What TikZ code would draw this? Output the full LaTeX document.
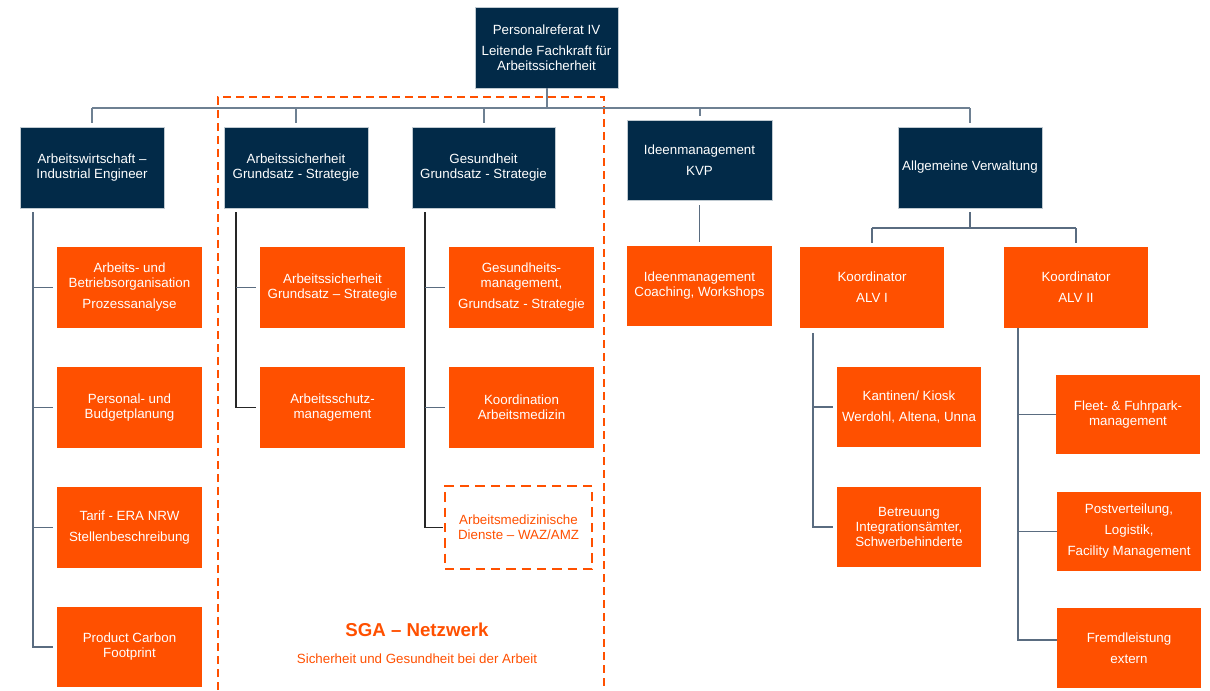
\documentclass[tikz,border=0pt]{standalone}
\usepackage{fontspec}
\setmainfont{Liberation Sans}
\usetikzlibrary{calc}
\definecolor{navy}{HTML}{022A48}
\definecolor{org}{HTML}{FF5000}
\definecolor{lineg}{HTML}{5A6C80}
\definecolor{busg}{HTML}{6E8092}
\begin{document}
\begin{tikzpicture}[x=0.75pt,y=-0.75pt,
  sz/.style 2 args={minimum width={#1*0.75pt}, minimum height={#2*0.75pt}},
  box/.style={rectangle, inner sep=0pt, align=center, text=white, font=\fontsize{10}{11.25}\selectfont},
  navybox/.style={box, fill=navy, draw=white!75!navy, line width=0.5pt},
  orgbox/.style={box, fill=org},
  dashbox/.style={box, fill=white, text=org, draw=org, line width=2.2pt, dash pattern=on 7pt off 4.5pt},
  busline/.style={draw=busg, line width=1.5pt},
  conn/.style={draw=lineg, line width=1.2pt},
  dk/.style={draw=black!85, line width=1.2pt},
  sgaframe/.style={draw=org, line width=1.5pt, dash pattern=on 6pt off 3.75pt}]
\useasboundingbox (0,0) rectangle (1210,690);
\fill[white] (0,0) rectangle (1210,690);

% SGA network frame
\draw[sgaframe] (218,690) -- (218,97) -- (604,97) -- (604,690);

% level 0 and 1
\node[navybox, sz={143}{81}] (top) at (546.5,47.5) {Personalreferat IV\\[4.5pt]Leitende Fachkraft für\\Arbeitssicherheit};
\node[navybox, sz={144}{81}] (A) at (92,167.5) {Arbeitswirtschaft –\\Industrial Engineer};
\node[navybox, sz={144}{81}] (B) at (296,167.5) {Arbeitssicherheit\\Grundsatz - Strategie};
\node[navybox, sz={143}{81}] (C) at (483.5,167.5) {Gesundheit\\Grundsatz - Strategie};
\node[navybox, sz={145}{80}] (D) at (699.5,160) {Ideenmanagement\\[4.5pt]KVP};
\node[navybox, sz={144}{81}] (E) at (970,167.5) {Allgemeine Verwaltung};

% column A
\node[orgbox, sz={145}{81}] (A1) at (129.5,287.5) {Arbeits- und\\Betriebsorganisation\\[4.5pt]Prozessanalyse};
\node[orgbox, sz={145}{81}] (A2) at (129.5,407.5) {Personal- und\\Budgetplanung};
\node[orgbox, sz={145}{81}] (A3) at (129.5,527.5) {Tarif - ERA NRW\\[4.5pt]Stellenbeschreibung};
\node[orgbox, sz={145}{80}] (A4) at (129.5,647) {Product Carbon\\Footprint};

% column B
\node[orgbox, sz={145}{81}] (B1) at (332.5,287.5) {Arbeitssicherheit\\Grundsatz – Strategie};
\node[orgbox, sz={145}{81}] (B2) at (332.5,407.5) {Arbeitsschutz-\\management};

% column C
\node[orgbox, sz={145}{81}] (C1) at (521.5,287.5) {Gesundheits-\\management,\\[4.5pt]Grundsatz - Strategie};
\node[orgbox, sz={145}{81}] (C2) at (521.5,407.5) {Koordination\\Arbeitsmedizin};
\node[dashbox, sz={147}{83}] (C3) at (518.5,527.5) {Arbeitsmedizinische\\Dienste – WAZ/AMZ};

% column D
\node[orgbox, sz={145}{80}] (D1) at (699.5,286) {Ideenmanagement\\Coaching, Workshops};

% column E
\node[orgbox, sz={144}{81}] (E1) at (872,287.5) {Koordinator\\[4.5pt]ALV I};
\node[orgbox, sz={144}{81}] (E2) at (1076,287.5) {Koordinator\\[4.5pt]ALV II};
\node[orgbox, sz={144}{80}] (E1a) at (909,407) {Kantinen/ Kiosk\\[4.5pt]Werdohl, Altena, Unna};
\node[orgbox, sz={144}{80}] (E1b) at (909,527) {Betreuung\\Integrationsämter,\\Schwerbehinderte};
\node[orgbox, sz={144}{79}] (E2a) at (1128,414.5) {Fleet- \& Fuhrpark-\\management};
\node[orgbox, sz={144}{79}] (E2b) at (1129,531.5) {Postverteilung,\\[4.5pt]Logistik,\\[4.5pt]Facility Management};
\node[orgbox, sz={144}{80}] (E2c) at (1129,648) {Fremdleistung\\[4.5pt]extern};

% SGA label
\node[text=org, font=\fontsize{14}{16}\selectfont\bfseries] (sga) at (417,630) {SGA – Netzwerk};
\node[text=org, font=\fontsize{10}{12}\selectfont] (sgasub) at (417,659) {Sicherheit und Gesundheit bei der Arbeit};

% top bus
\coordinate (bus) at (0,108);
\draw[busline] (top.south) -- (top.south |- bus);
\draw[busline] (A.north |- bus) -- (E.north |- bus);
\foreach \n in {A,B,C,E} \draw[busline] (\n.north |- bus) -- ($(\n.north)+(0,-4)$);
\draw[busline] (D.north |- bus) -- ($(D.north)+(0,-4)$);

% column A connectors
\coordinate (xa) at (33,0);
\draw[conn] ($(xa |- A.south)+(0,4)$) -- (xa |- A4.west) -- ($(A4.west)+(-4,0)$);
\foreach \n in {A1,A2,A3} \draw[conn] (xa |- \n.west) -- ($(\n.west)+(-4,0)$);

% column B connectors
\coordinate (xb) at (236,0);
\draw[dk] ($(xb |- B.south)+(0,4)$) -- (xb |- B2.west) -- ($(B2.west)+(-4,0)$);
\draw[conn] (xb |- B1.west) -- ($(B1.west)+(-4,0)$);

% column C connectors
\coordinate (xc) at (425,0);
\draw[dk] ($(xc |- C.south)+(0,4)$) -- (xc |- C3.west) -- ($(C3.west)+(-1,0)$);
\foreach \n in {C1,C2} \draw[conn] (xc |- \n.west) -- ($(\n.west)+(-4,0)$);

% column D connector
\draw[conn] ($(D.south)+(0,5)$) -- ($(D1.north)+(0,-4)$);

% column E connectors
\coordinate (ebus) at (0,228);
\draw[conn] ($(E.south)+(0,4)$) -- (E.south |- ebus);
\draw[conn] (E1.north |- ebus) -- (E2.north |- ebus);
\foreach \n in {E1,E2} \draw[conn] (\n.north |- ebus) -- ($(\n.north)+(0,-4)$);

\coordinate (xe1) at (813,0);
\draw[conn] ($(xe1 |- E1.south)+(0,5)$) -- (xe1 |- E1b.west) -- ($(E1b.west)+(-4,0)$);
\draw[conn] (xe1 |- E1a.west) -- ($(E1a.west)+(-4,0)$);

\coordinate (xe2) at (1018,0);
\coordinate (fr) at ($(E2c.west)+(0,-8)$);
\draw[conn] (xe2 |- E2.south) -- (xe2 |- fr) -- (fr);
\foreach \n in {E2a,E2b} \draw[conn] (xe2 |- \n.west) -- (\n.west);
\end{tikzpicture}
\end{document}
